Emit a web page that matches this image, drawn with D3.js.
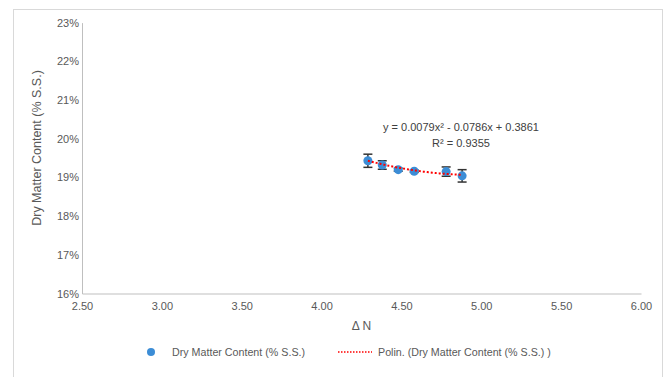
<!DOCTYPE html>
<html>
<head>
<meta charset="utf-8">
<script src="https://cdn.jsdelivr.net/npm/d3@7"></script>
<style>
  body { margin: 0; background: #fff; }
  svg { display: block; font-family: "Liberation Sans", Arial, sans-serif; }
</style>
</head>
<body>
<svg id="chart" width="668" height="377"></svg>
<script>
// data
const deltaN = [4.29, 4.38, 4.48, 4.58, 4.78, 4.88];
const dryMatter = [0.1943, 0.1932, 0.1920, 0.1916, 0.1915, 0.1904];
const errBar = [0.0017, 0.0011, 0.0004, 0.0003, 0.0012, 0.0016];
const xTicks = [2.5, 3.0, 3.5, 4.0, 4.5, 5.0, 5.5, 6.0];
const yTicks = [0.16, 0.17, 0.18, 0.19, 0.20, 0.21, 0.22, 0.23];
// trendline coefficients shown on the chart
const polyCoef = [0.3861, -0.0786, 0.0079];
const eqText = "y = 0.0079x² - 0.0786x + 0.3861";
const r2Text = "R² = 0.9355";

const seriesName = "Dry Matter Content (% S.S.)";
const trendName = "Polin. (Dry Matter Content (% S.S.) )";

const svg = d3.select("#chart");
const axisColor = "#bfbfbf";
const textColor = "#595959";
const blue = "#3c8dd6";

// chart border
svg.append("rect")
  .attr("x", 13.5).attr("y", 9.5)
  .attr("width", 649).attr("height", 380)
  .attr("fill", "none").attr("stroke", "#d9d9d9");

const x = d3.scaleLinear().domain([2.5, 6.0]).range([82, 641]);
const y = d3.scaleLinear().domain([0.16, 0.23]).range([293.5, 22.6]);

// axes
const xAxis = svg.append("g")
  .attr("transform", `translate(0,${y(0.16)})`)
  .call(d3.axisBottom(x).tickValues(xTicks).tickFormat(d3.format(".2f")).tickSize(0).tickPadding(9));
const yAxis = svg.append("g")
  .attr("transform", `translate(${x(2.5)},0)`)
  .call(d3.axisLeft(y).tickValues(yTicks).tickFormat(d3.format(".0%")).tickSize(0).tickPadding(3));

[xAxis, yAxis].forEach(g => {
  g.select(".domain").attr("stroke", axisColor).attr("stroke-width", 1);
  g.selectAll("text").attr("fill", textColor).attr("font-size", 11)
    .attr("font-family", "'Liberation Sans', Arial, sans-serif");
});

// axis titles
svg.append("text")
  .attr("x", x(4.25)).attr("y", 330)
  .attr("text-anchor", "middle")
  .attr("fill", textColor).attr("font-size", 12)
  .text("Δ N");

svg.append("text")
  .attr("transform", `translate(41,148) rotate(-90)`)
  .attr("text-anchor", "middle")
  .attr("fill", textColor).attr("font-size", 12.5)
  .text(seriesName);

// trendline
const xs = d3.range(101).map(i => deltaN[0] + (deltaN[deltaN.length - 1] - deltaN[0]) * i / 100);
const poly = v => polyCoef[0] + polyCoef[1] * v + polyCoef[2] * v * v;

// error bars
const eb = svg.append("g").attr("stroke", "#333").attr("stroke-width", 1.5);
deltaN.forEach((d, i) => {
  const cx = x(d);
  const y0 = y(dryMatter[i] - errBar[i]);
  const y1 = y(dryMatter[i] + errBar[i]);
  eb.append("line").attr("x1", cx).attr("x2", cx).attr("y1", y0).attr("y2", y1);
  eb.append("line").attr("x1", cx - 4.5).attr("x2", cx + 4.5).attr("y1", y0).attr("y2", y0);
  eb.append("line").attr("x1", cx - 4.5).attr("x2", cx + 4.5).attr("y1", y1).attr("y2", y1);
});

// points
svg.append("g").selectAll("circle")
  .data(deltaN)
  .join("circle")
  .attr("cx", d => x(d))
  .attr("cy", (d, i) => y(dryMatter[i]))
  .attr("r", 4.5)
  .attr("fill", blue);

svg.append("path")
  .datum(xs)
  .attr("d", d3.line().x(d => x(d)).y(d => y(poly(d))))
  .attr("fill", "none")
  .attr("stroke", "#ff0000")
  .attr("stroke-width", 2)
  .attr("stroke-dasharray", "2,2");

// equation label
svg.append("text")
  .attr("x", 461).attr("y", 131)
  .attr("text-anchor", "middle")
  .attr("fill", "#404040").attr("font-size", 11)
  .text(eqText);
svg.append("text")
  .attr("x", 461).attr("y", 147)
  .attr("text-anchor", "middle")
  .attr("fill", "#404040").attr("font-size", 11)
  .text(r2Text);

// legend
const lg = svg.append("g").attr("font-size", 10.7).attr("fill", textColor);
lg.append("circle").attr("cx", 151).attr("cy", 352).attr("r", 4).attr("fill", blue);
lg.append("text").attr("x", 172).attr("y", 356).text(seriesName);
lg.append("line")
  .attr("x1", 338).attr("x2", 372).attr("y1", 352).attr("y2", 352)
  .attr("stroke", "#ff0000").attr("stroke-width", 1.5).attr("stroke-dasharray", "1.5,1.5");
lg.append("text").attr("x", 378).attr("y", 356).text(trendName);
</script>
</body>
</html>
